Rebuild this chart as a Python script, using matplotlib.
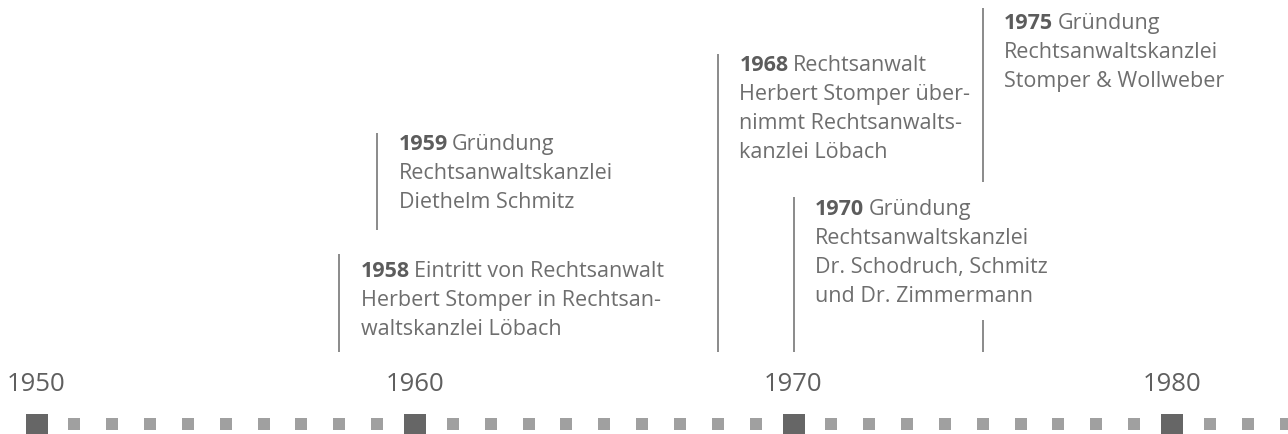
import matplotlib
matplotlib.use("Agg")
import matplotlib.pyplot as plt

# timeline data
years = list(range(1950, 1984))
decades = [1950, 1960, 1970, 1980]
event_years = [1958, 1959, 1968, 1970, 1975]
event_heads = ["Eintritt von Rechtsanwalt", "Gründung", "Rechtsanwalt", "Gründung", "Gründung"]
event_lines = [
    ["Herbert Stomper in Rechtsan-", "waltskanzlei Löbach"],
    ["Rechtsanwaltskanzlei", "Diethelm Schmitz"],
    ["Herbert Stomper über-", "nimmt Rechtsanwalts-", "kanzlei Löbach"],
    ["Rechtsanwaltskanzlei", "Dr. Schodruch, Schmitz", "und Dr. Zimmermann"],
    ["Rechtsanwaltskanzlei", "Stomper & Wollweber"],
]

# layout (pixel rows, y grows downwards)
baselines = [277, 150, 71, 215, 29]
segments = [[(255, 353)], [(134, 231)], [(55, 353)], [(198, 353)], [(9, 183), (321, 353)]]
line_step = 29
fs = 15.5

plt.rcParams['font.family'] = ['Open Sans', 'DejaVu Sans']
fig = plt.figure(figsize=(12.88, 4.35), dpi=100)
ax = fig.add_axes([0, 0, 1, 1])
ax.set_xlim(1950 - 36.5 / 37.85, 1950 + (1288 - 36.5) / 37.85)
ax.set_ylim(435, 0)
ax.axis('off')

minor = [y for y in years if y not in decades]
ax.scatter(minor, [425] * len(minor), marker='s', s=81, color='#a0a0a0', linewidths=0)
ax.scatter(decades, [425.5] * len(decades), marker='s', s=274, color='#666666', linewidths=0)

for d in decades:
    ax.text(d, 391, str(d), ha='center', va='baseline', fontsize=18.5, color='#5f5f5f')

for yr, head, rest, base, segs in zip(event_years, event_heads, event_lines, baselines, segments):
    for top, bot in segs:
        ax.vlines(yr, top, bot, color='#8a8a8a', linewidth=1.4)
    t = ax.annotate(str(yr), xy=(yr, base), xytext=(15.5, 0), textcoords='offset points',
                    va='baseline', ha='left', fontsize=fs, fontweight='bold', color='#5c5c5c')
    ax.annotate(head, xy=(1, 0), xycoords=t, xytext=(3, 0), textcoords='offset points',
                va='bottom', ha='left', fontsize=fs, color='#6e6e6e')
    for i, line in enumerate(rest):
        ax.annotate(line, xy=(yr, base + (i + 1) * line_step), xytext=(15.5, 0),
                    textcoords='offset points', va='baseline', ha='left',
                    fontsize=fs, color='#6e6e6e')

fig.savefig('out.png', dpi=100)
